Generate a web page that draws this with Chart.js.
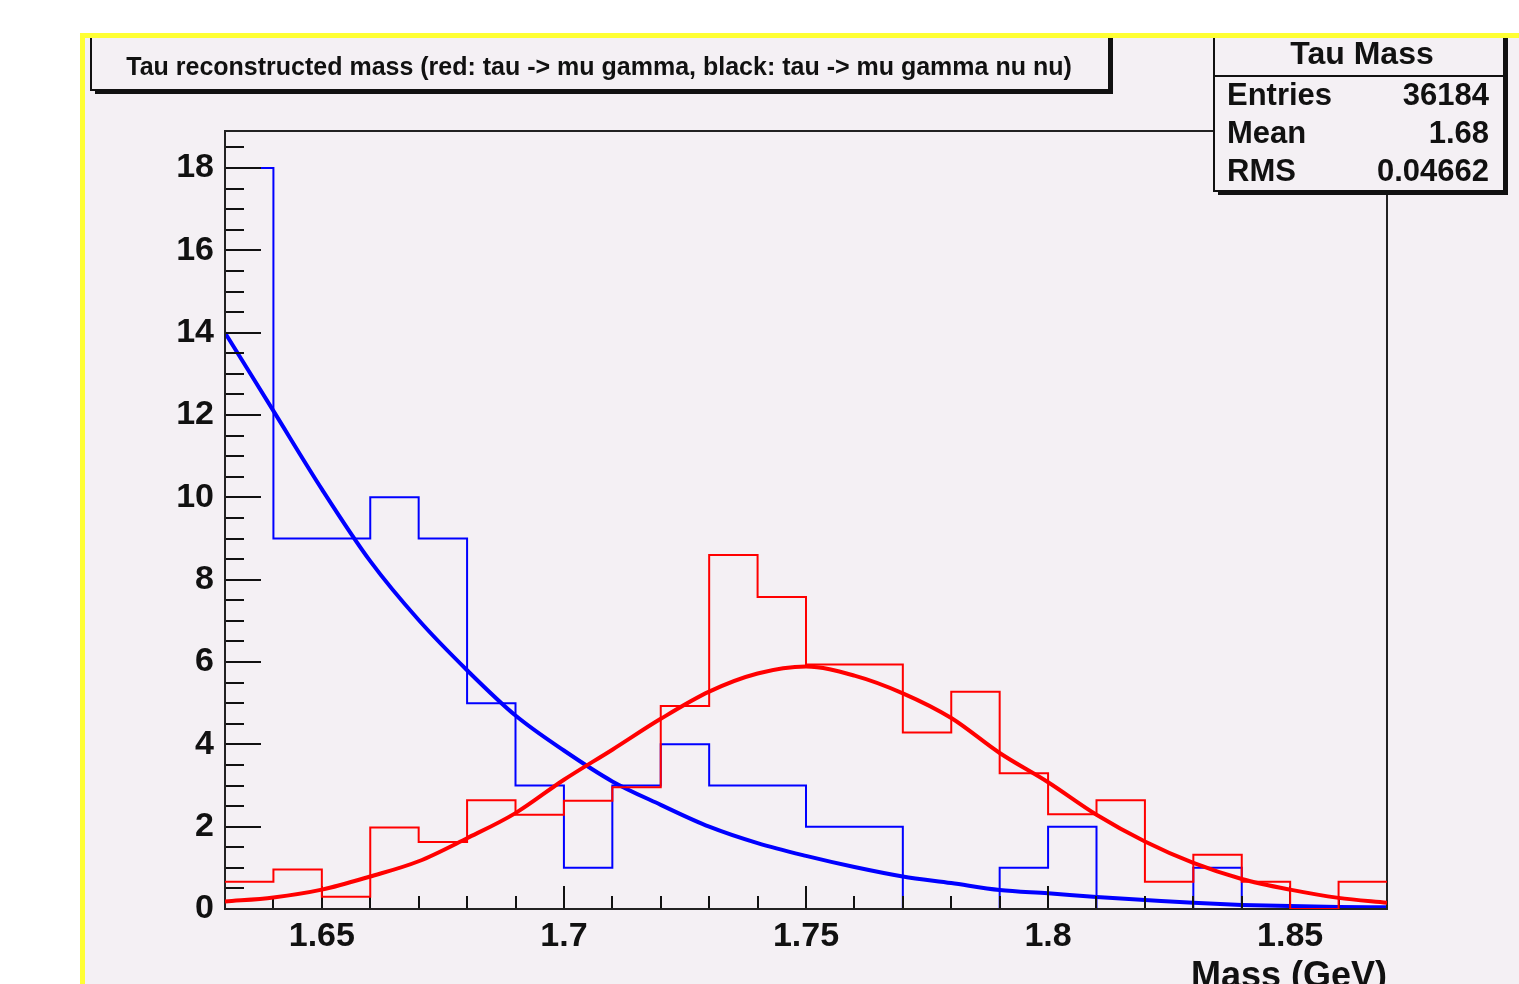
<!DOCTYPE html>
<html>
<head>
<meta charset="utf-8">
<script src="https://cdn.jsdelivr.net/npm/chart.js@4.4.1/dist/chart.umd.min.js"></script>
<style>
html, body { margin: 0; padding: 0; background: #fff; overflow: hidden; }
#wrap { width: 1519px; height: 984px; }
</style>
</head>
<body>
<div id="wrap"><canvas id="c" width="1519" height="984"></canvas></div>
<script>
// bin edges of the mass histograms (GeV)
const binEdges = [1.63, 1.64, 1.65, 1.66, 1.67, 1.68, 1.69, 1.70, 1.71, 1.72, 1.73, 1.74,
                  1.75, 1.76, 1.77, 1.78, 1.79, 1.80, 1.81, 1.82, 1.83, 1.84, 1.85, 1.86, 1.87];
// blue: tau -> mu gamma nu nu, red: tau -> mu gamma (scaled)
const blueCounts = [18, 9, 9, 10, 9, 5, 3, 1, 3, 4, 3, 3, 2, 2, 0, 0, 1, 2, 0, 0, 1, 0, 0, 0];
const redCounts = [0.66, 0.96, 0.30, 1.98, 1.63, 2.64, 2.29, 2.63, 2.96, 4.93, 8.6, 7.58,
                   5.94, 5.94, 4.29, 5.28, 3.30, 2.30, 2.64, 0.66, 1.32, 0.66, 0.0, 0.66];

// fitted curves
const fitX = [1.63, 1.64, 1.65, 1.66, 1.67, 1.68, 1.69, 1.70, 1.71, 1.72, 1.73, 1.74, 1.75,
              1.76, 1.77, 1.78, 1.79, 1.80, 1.81, 1.82, 1.83, 1.84, 1.85, 1.86, 1.87];
const blueFit = [14.0, 12.1, 10.2, 8.45, 7.02, 5.8, 4.7, 3.85, 3.1, 2.53, 2.0, 1.6, 1.29,
                 1.02, 0.79, 0.63, 0.46, 0.38, 0.29, 0.22, 0.15, 0.10, 0.07, 0.05, 0.04];
const redFit = [0.18, 0.28, 0.47, 0.79, 1.16, 1.72, 2.33, 3.14, 3.87, 4.62, 5.28, 5.72, 5.89,
                5.67, 5.24, 4.64, 3.79, 3.08, 2.29, 1.64, 1.12, 0.73, 0.47, 0.27, 0.15];

const xTicks = [1.65, 1.7, 1.75, 1.8, 1.85];
const yTicks = [0, 2, 4, 6, 8, 10, 12, 14, 16, 18];

const titleText = 'Tau reconstructed mass (red: tau -> mu gamma, black: tau -> mu gamma nu nu)';
const statsTitle = 'Tau Mass';
const statsRows = [['Entries', '36184'], ['Mean', '1.68'], ['RMS', '0.04662']];

const PAD = 'rgb(244,240,244)';
const FONT = "'Liberation Sans', Arial, Helvetica, sans-serif";

function histPoints(counts) {
    let pts = counts.map((c, i) => ({x: binEdges[i], y: c}));
    pts.push({x: binEdges[counts.length], y: counts[counts.length - 1]});
    return pts;
}
function curvePoints(ys) {
    return fitX.map((x, i) => ({x: x, y: ys[i]}));
}

function paveBox(ctx, x0, y0, x1, y1) {
    ctx.fillStyle = '#111';
    ctx.fillRect(x0 + 4, y0 + 4, x1 - x0, y1 - y0);
    ctx.fillStyle = PAD;
    ctx.fillRect(x0, y0, x1 - x0, y1 - y0);
    ctx.strokeStyle = '#111';
    ctx.lineWidth = 2;
    ctx.strokeRect(x0, y0, x1 - x0, y1 - y0);
}

function drawAxes(chart) {
    const ctx = chart.ctx;
    const a = chart.chartArea;
    const xs = chart.scales.x, ys = chart.scales.y;
    ctx.save();
    ctx.strokeStyle = '#111';
    ctx.lineWidth = 2;
    ctx.beginPath();
    // y ticks, inside the frame
    for (let k = 0; k <= 37; k++) {
        let py = Math.round(ys.getPixelForValue(k * 0.5));
        let len = (k % 4 === 0) ? 36 : 19;
        ctx.moveTo(a.left, py);
        ctx.lineTo(a.left + len, py);
    }
    // x ticks
    for (let k = 0; k <= 24; k++) {
        let px = Math.round(xs.getPixelForValue(1.63 + k * 0.01));
        let len = (k % 5 === 2) ? 23 : 13;
        ctx.moveTo(px, a.bottom);
        ctx.lineTo(px, a.bottom - len);
    }
    ctx.stroke();
    ctx.strokeStyle = '#222';
    ctx.strokeRect(a.left, a.top, a.right - a.left, a.bottom - a.top);
    ctx.restore();
}

const rootPad = {
    id: 'rootPad',
    beforeDraw(chart) {
        const ctx = chart.ctx;
        ctx.save();
        ctx.fillStyle = '#fff';
        ctx.fillRect(0, 0, chart.width, chart.height);
        ctx.fillStyle = '#ffff33';
        ctx.fillRect(80, 33, chart.width - 80, chart.height - 33);
        ctx.fillStyle = PAD;
        ctx.fillRect(85, 38, chart.width - 85, chart.height - 38);
        ctx.restore();
    },
    afterDatasetDraw(chart, args) {
        // axes go over the first histogram, the second one is drawn over them
        if (args.index === 1) drawAxes(chart);
    },
    afterDraw(chart) {
        const ctx = chart.ctx;
        ctx.save();
        ctx.beginPath();
        ctx.rect(85, 38, chart.width - 85, chart.height - 38);
        ctx.clip();

        // title pave
        paveBox(ctx, 91, 30, 1109, 90);
        ctx.fillStyle = '#111';
        ctx.font = 'bold 25px ' + FONT;
        ctx.textAlign = 'center';
        ctx.textBaseline = 'middle';
        ctx.fillText(titleText, 599, 68);

        // stats pave
        paveBox(ctx, 1214, 30, 1504, 191);
        ctx.beginPath();
        ctx.moveTo(1214, 76);
        ctx.lineTo(1504, 76);
        ctx.stroke();
        ctx.fillStyle = '#111';
        ctx.font = 'bold 32px ' + FONT;
        ctx.textAlign = 'center';
        ctx.fillText(statsTitle, 1362, 55);
        ctx.font = 'bold 31px ' + FONT;
        statsRows.forEach((r, i) => {
            let y = 96 + i * 38;
            ctx.textAlign = 'left';
            ctx.fillText(r[0], 1227, y);
            ctx.textAlign = 'right';
            ctx.fillText(r[1], 1489, y);
        });
        ctx.restore();
    }
};

let datasets = [
    {
        label: 'tau -> mu gamma nu nu',
        data: histPoints(blueCounts),
        borderColor: '#0000ff',
        borderWidth: 2,
        stepped: 'before',
        pointRadius: 0,
        fill: false,
        order: 4,
    },
    {
        label: 'fit (black)',
        data: curvePoints(blueFit),
        borderColor: '#0000ff',
        borderWidth: 4,
        cubicInterpolationMode: 'monotone',
        pointRadius: 0,
        fill: false,
        order: 3,
    },
    {
        label: 'tau -> mu gamma',
        data: histPoints(redCounts),
        borderColor: '#ff0000',
        borderWidth: 2,
        stepped: 'before',
        pointRadius: 0,
        fill: false,
        order: 2,
    },
    {
        label: 'fit (red)',
        data: curvePoints(redFit),
        borderColor: '#ff0000',
        borderWidth: 4,
        cubicInterpolationMode: 'monotone',
        pointRadius: 0,
        fill: false,
        order: 1,
    },
];

new Chart(document.getElementById('c'), {
    type: 'line',
    data: { datasets },
    plugins: [rootPad],
    options: {
        responsive: false,
        animation: false,
        events: [],
        layout: { padding: { left: 0, top: 131, right: 132, bottom: 0 } },
        plugins: { legend: { display: false }, tooltip: { enabled: false } },
        scales: {
            x: {
                type: 'linear',
                min: 1.63,
                max: 1.87,
                grid: { display: false, drawTicks: false },
                border: { display: false },
                afterBuildTicks: s => { s.ticks = xTicks.map(v => ({value: v})); },
                afterFit: s => { s.height = 75; },
                ticks: {
                    autoSkip: false,
                    maxRotation: 0,
                    minRotation: 0,
                    padding: 7,
                    color: '#111',
                    font: { family: FONT, size: 34, weight: 'bold' },
                    callback: v => String(v),
                },
                title: {
                    display: true,
                    text: 'Mass (GeV)',
                    align: 'end',
                    color: '#111',
                    font: { family: FONT, size: 36, weight: 'bold', lineHeight: 1.2 },
                    padding: { top: 0, bottom: -15 },
                },
            },
            y: {
                min: 0,
                max: 18.9,
                grid: { display: false, drawTicks: false },
                border: { display: false },
                afterBuildTicks: s => { s.ticks = yTicks.map(v => ({value: v})); },
                afterFit: s => { s.width = 225; },
                ticks: {
                    autoSkip: false,
                    padding: 11,
                    color: '#111',
                    font: { family: FONT, size: 34, weight: 'bold' },
                },
            },
        },
    },
});
</script>
</body>
</html>
